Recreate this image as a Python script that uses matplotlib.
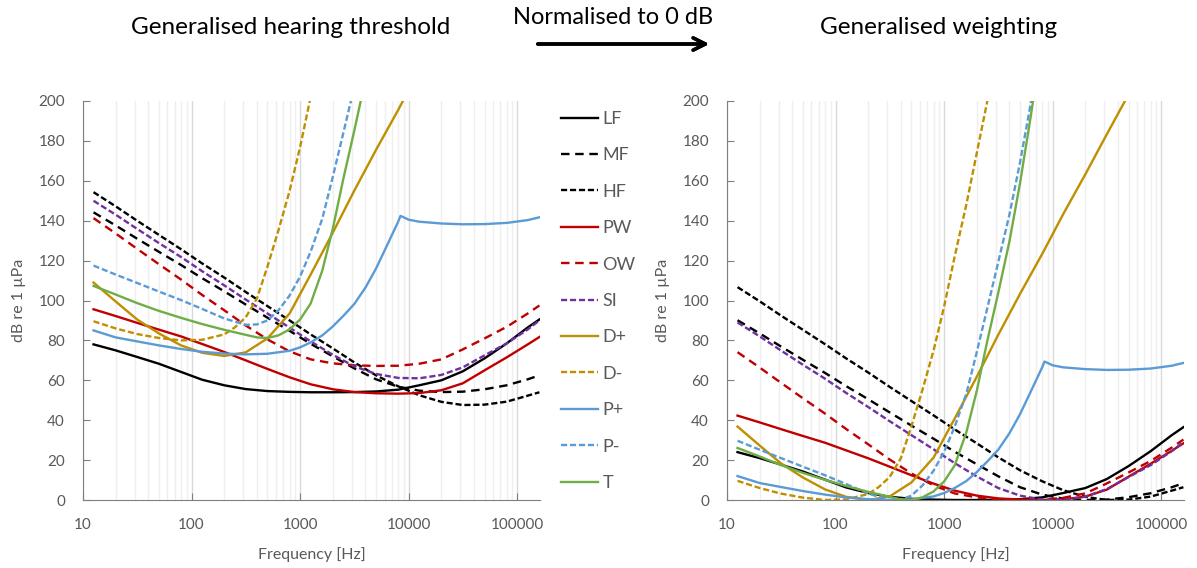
import numpy as np
import matplotlib.pyplot as plt
from matplotlib.ticker import FixedLocator, LogLocator, NullFormatter

plt.rcParams['font.family'] = ['Lato', 'DejaVu Sans']

# frequency grids [Hz]
freq = [12.5, 20, 31.5, 50, 80, 125, 200, 315, 500, 800, 1250, 2000, 3150,
        5000, 8000, 12500, 20000, 31500, 50000, 80000, 125000, 160000]
freq_fine = [12.5, 20, 31.5, 50, 80, 125, 200, 315, 400, 500, 630, 800, 1000,
             1250, 1600, 2000, 2500, 3150, 4000, 5000, 6300, 8000]
freq_dm = [12.5, 20, 31.5, 50, 80, 125, 200, 250, 315, 400, 500, 630, 800,
           1000, 1250, 1600, 2000, 2500, 3150]
freq_pp = [12.5, 20, 31.5, 50, 80, 125, 200, 315, 500, 800, 1000, 1250, 1600,
           2000, 2500, 3150, 4000, 5000, 6300, 8000, 8400, 8900, 10000, 12500,
           20000, 31500, 50000, 80000, 125000, 160000]

# hearing thresholds [dB re 1 uPa]
lf = [78, 75, 71.7, 68.3, 64.2, 60.3, 57.5, 55.6, 54.6, 54.2, 54, 54, 54.1,
      54.4, 55.3, 57.5, 60, 64.5, 71, 78.5, 86.5, 90.5]
mf = [144.2, 137.6, 131, 124.4, 117.8, 111.2, 104.6, 98, 91.4, 84.8, 78.3, 72,
      66, 60.5, 56.8, 54.8, 54.1, 54.3, 55.5, 57.5, 60.5, 62.5]
hf = [154.3, 147.2, 140, 132.9, 125.7, 118.6, 111.5, 104.3, 97.2, 90, 83, 76,
      69, 62.5, 57, 52.5, 49.2, 47.6, 47.8, 49.3, 52.3, 54]
pw = [95.6, 92.2, 88.8, 85.4, 82, 78.2, 74.2, 70, 65.7, 61.5, 58, 55.5, 54.1,
      53.5, 53.3, 53.6, 55, 58.5, 65, 71.5, 78, 81.7]
ow = [141.3, 133.6, 125.9, 118.2, 110.5, 102.8, 95.1, 87.5, 80.5, 74.5, 70.5,
      68.5, 67.5, 67.2, 67.3, 68.3, 70.5, 75.5, 81, 86.8, 93.5, 97.5]
si = [150, 143, 135.9, 128.8, 121.8, 114.7, 107.6, 100.5, 93.5, 86.4, 79.5,
      72.8, 67, 63.2, 61.2, 61, 62.7, 66.5, 72.5, 78.5, 85.5, 90]
d_plus = [109, 99.5, 90.5, 83.5, 77.5, 73.8, 72.2, 74, 81, 93.5, 113, 134, 155,
          175.5, 195.5, 215.5, 235.5, 255.5, 275.5, 295.5, 315.5, 325.5]
d_minus = [89.6, 86, 83.2, 81.2, 80, 80.3, 83, 86.5, 91.5, 101, 117, 135, 155,
           177, 202, 228, 254, 280, 306]
p_plus = [85, 81.5, 79.5, 77.5, 75.7, 74.3, 73.4, 73, 73.3, 74.8, 76.5, 79,
          82.5, 87, 92.3, 98.2, 106.5, 116, 127.5, 139.5, 142.4, 141.8, 140.5,
          139.5, 138.6, 138.2, 138.3, 138.9, 140.3, 141.7]
p_minus = [117.5, 113, 108.8, 104.5, 100.2, 95.8, 91, 87.8, 88, 90, 95, 102.5,
           112, 124.5, 141, 162, 184, 207, 231, 257, 287, 320]
t = [107.3, 103, 98.7, 94.8, 91.3, 88.2, 85.3, 82.8, 81.5, 81.2, 82.5, 85.5,
     90.5, 98.5, 115, 136, 161, 185, 211, 240, 274, 312]

names = ['LF', 'MF', 'HF', 'PW', 'OW', 'SI', 'D+', 'D-', 'P+', 'P-', 'T']

solid = '-'
long_dash = (0, (3.6, 2.4))
short_dash = (0, (2.6, 1.2))
black, red, purple = '#000000', '#C00000', '#7030A0'
gold, blue, green = '#BF8F00', '#5B9BD5', '#70AD47'

series = [
    (freq, lf, black, solid),
    (freq, mf, black, long_dash),
    (freq, hf, black, short_dash),
    (freq, pw, red, solid),
    (freq, ow, red, long_dash),
    (freq, si, purple, short_dash),
    (freq, d_plus, gold, solid),
    (freq_dm, d_minus, gold, short_dash),
    (freq_pp, p_plus, blue, solid),
    (freq_fine, p_minus, blue, short_dash),
    (freq_fine, t, green, solid),
]

W, H = 1197, 568
fig = plt.figure(figsize=(W / 100, H / 100), dpi=100)
ax1 = fig.add_axes([83 / W, 68 / H, 457 / W, 399 / H])
ax2 = fig.add_axes([727 / W, 68 / H, 457 / W, 399 / H])

grey_txt = '#595959'
for ax, normalise in [(ax1, False), (ax2, True)]:
    for (f, v, c, ls), name in zip(series, names):
        v = np.array(v)
        if normalise:
            v = v - v.min()
        ax.plot(f, v, color=c, ls=ls, lw=1.7, label=name)
    ax.set_xscale('log')
    ax.set_xlim(10, 162000)
    ax.set_ylim(0, 200)
    ax.set_yticks(range(0, 201, 20))
    ax.xaxis.set_major_locator(FixedLocator([10, 100, 1000, 10000, 100000]))
    ax.set_xticklabels(['10', '100', '1000', '10000', '100000'])
    ax.xaxis.set_minor_locator(LogLocator(base=10, subs=range(2, 10)))
    ax.xaxis.set_minor_formatter(NullFormatter())
    ax.grid(axis='x', which='major', color='#d9d9d9', lw=1)
    ax.grid(axis='x', which='minor', color='#efefef', lw=1)
    ax.set_axisbelow(True)
    ax.tick_params(which='major', direction='in', length=5, color='#7f7f7f',
                   labelsize=11, labelcolor=grey_txt, pad=13)
    ax.tick_params(which='minor', length=0)
    for s in ['top', 'right']:
        ax.spines[s].set_visible(False)
    for s in ['left', 'bottom']:
        ax.spines[s].set_color('#7f7f7f')
    ax.set_xlabel('Frequency [Hz]', fontsize=11.5, color=grey_txt)
    ax.set_ylabel('dB re 1 µPa', fontsize=11.5, color=grey_txt)
    ax.xaxis.set_label_coords(0.5, -0.118)
    ax.yaxis.set_label_coords(-0.125, 0.5)

handles, labels = ax1.get_legend_handles_labels()
fig.legend(handles, labels, loc='upper left', bbox_to_anchor=(561 / W, 1 - 111 / H),
           frameon=False, fontsize=13, labelcolor=grey_txt, handlelength=2.05,
           handletextpad=0.25, labelspacing=1.13, borderpad=0, borderaxespad=0)

fig.text(291 / W, 1 - 27 / H, 'Generalised hearing threshold', fontsize=17.5,
         ha='center', va='center')
fig.text(613 / W, 1 - 17 / H, 'Normalised to 0 dB', fontsize=17,
         ha='center', va='center')
fig.text(939 / W, 1 - 27 / H, 'Generalised weighting', fontsize=17.5,
         ha='center', va='center')
fig.add_artist(plt.annotate('', xy=(712 / W, 1 - 44 / H), xytext=(535 / W, 1 - 44 / H),
                            xycoords='figure fraction',
                            arrowprops=dict(arrowstyle='->', lw=2.5, mutation_scale=22)))

fig.savefig('out.png', dpi=100)
